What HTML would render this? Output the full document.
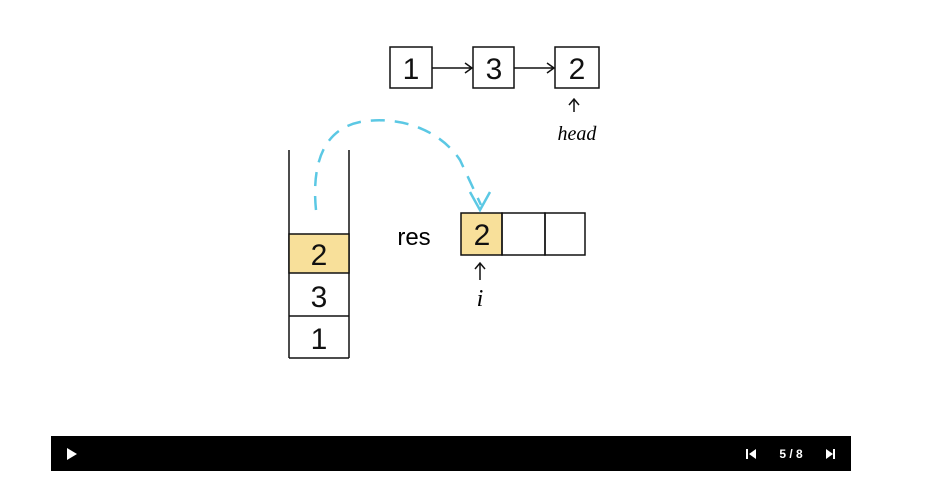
<!DOCTYPE html>
<html><head><meta charset="utf-8"><style>
body{margin:0;width:951px;height:490px;background:#fff;overflow:hidden;font-family:"Liberation Sans",sans-serif}
svg{position:absolute;left:0;top:0}
.h{font-family:"Liberation Serif",serif;font-style:italic;}
</style></head><body>
<svg width="951" height="490">
<g stroke="#111" stroke-width="1.5" fill="none">
<rect x="390" y="47" width="42" height="41"/>
<rect x="473" y="47" width="41" height="41"/>
<rect x="555" y="47" width="44" height="41"/>
<path d="M432 68H472M465 63L472 68L465 73"/>
<path d="M514 68H554M547 63L554 68L547 73"/>
<path d="M574 112V99M569 105L574 99L579 105"/>
<path d="M289 150V358M349 150V358M289 358H349"/>
<rect x="289" y="234" width="60" height="39" fill="#f8e09a"/>
<path d="M289 316H349"/>
<rect x="461" y="213" width="41" height="42" fill="#f8e09a"/>
<rect x="502" y="213" width="43" height="42"/>
<rect x="545" y="213" width="40" height="42"/>
<path d="M480 280V263M475 269L480 263L485 269"/>
</g>
<path d="M316 210C312 170 320 130 360 122C400 115 440 130 460 160L481 205" stroke="#5bc8e4" stroke-width="2.5" fill="none" stroke-dasharray="14 10"/>
<path d="M470 192L480 210L490 192" stroke="#5bc8e4" stroke-width="2.5" fill="none"/>
<g font-size="30" fill="#111" text-anchor="middle" font-family="Liberation Sans, sans-serif">
<text x="411" y="79">1</text><text x="494" y="79">3</text><text x="577" y="79">2</text>
<text x="319" y="265">2</text><text x="319" y="307">3</text><text x="319" y="349">1</text>
<text x="482" y="245">2</text>
</g>
<text x="577" y="140" class="h" font-size="20" text-anchor="middle">head</text>
<text x="414" y="245" font-size="24" text-anchor="middle">res</text>
<text x="480" y="306" class="h" font-size="24" text-anchor="middle">i</text>
<rect x="51" y="436" width="800" height="35" fill="#000"/>
<path d="M67 448L77 454L67 460Z" fill="#fff"/>
<path d="M746 449h2v10h-2zM756 449v10l-7-5z" fill="#fff"/>
<text x="791" y="458" fill="#fff" font-size="12" font-weight="bold" text-anchor="middle">5 / 8</text>
<path d="M826 449v10l7-5zM833 449h2v10h-2z" fill="#fff"/>
</svg>
</body></html>
